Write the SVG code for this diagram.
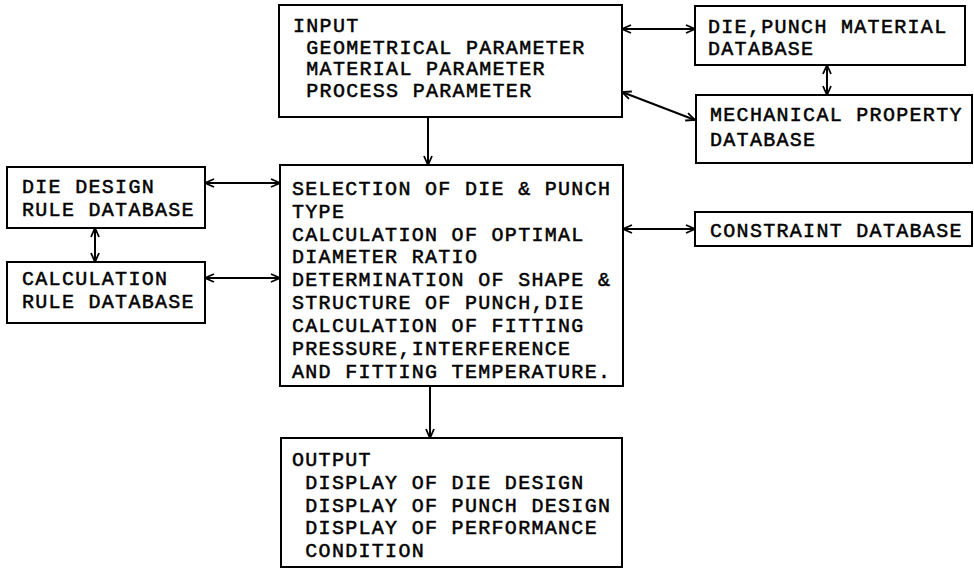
<svg xmlns="http://www.w3.org/2000/svg" width="974" height="570" viewBox="0 0 974 570">
<defs>
<style>
.box{fill:#fff;stroke:#000;stroke-width:2}
.t{font-family:"Liberation Mono","DejaVu Sans Mono",monospace;font-size:20px;letter-spacing:1.3px;fill:#000;stroke:#000;stroke-width:0.5px;white-space:pre}
.c{stroke:#000;stroke-width:2;fill:none}
</style>
<marker id="ah" viewBox="0 0 10 10" refX="10" refY="5" markerWidth="10" markerHeight="10" markerUnits="userSpaceOnUse" orient="auto-start-reverse">
<path d="M1,1 L10,5 L1,9" fill="none" stroke="#000" stroke-width="1.8"/>
</marker>
</defs>
<rect width="974" height="570" fill="#fff"/>
<g id="connectors">
<line class="c" x1="622" y1="29" x2="695" y2="29" marker-start="url(#ah)" marker-end="url(#ah)"/>
<line class="c" x1="622" y1="92" x2="695" y2="120" marker-start="url(#ah)" marker-end="url(#ah)"/>
<line class="c" x1="827" y1="65" x2="827" y2="95" marker-start="url(#ah)" marker-end="url(#ah)"/>
<line class="c" x1="428" y1="117" x2="428" y2="165" marker-end="url(#ah)"/>
<line class="c" x1="205" y1="183" x2="280" y2="183" marker-start="url(#ah)" marker-end="url(#ah)"/>
<line class="c" x1="95" y1="228" x2="95" y2="262" marker-start="url(#ah)" marker-end="url(#ah)"/>
<line class="c" x1="205" y1="278" x2="280" y2="278" marker-start="url(#ah)" marker-end="url(#ah)"/>
<line class="c" x1="623" y1="229" x2="695" y2="229" marker-start="url(#ah)" marker-end="url(#ah)"/>
<line class="c" x1="430" y1="386" x2="430" y2="438" marker-end="url(#ah)"/>
</g>
<g id="input">
<rect class="box" x="279" y="5" width="343" height="112"/>
<text class="t" x="293" y="32">INPUT</text>
<text class="t" x="293" y="53.5"> GEOMETRICAL PARAMETER</text>
<text class="t" x="293" y="75"> MATERIAL PARAMETER</text>
<text class="t" x="293" y="96.5"> PROCESS PARAMETER</text>
</g>
<g id="die-punch-material">
<rect class="box" x="695" y="6" width="270" height="59"/>
<text class="t" x="708" y="33">DIE,PUNCH MATERIAL</text>
<text class="t" x="708" y="55">DATABASE</text>
</g>
<g id="mechanical-property">
<rect class="box" x="696" y="95" width="276" height="68"/>
<text class="t" x="710" y="121">MECHANICAL PROPERTY</text>
<text class="t" x="710" y="146">DATABASE</text>
</g>
<g id="die-design-rule">
<rect class="box" x="7" y="167" width="198" height="61"/>
<text class="t" x="22" y="193">DIE DESIGN</text>
<text class="t" x="22" y="216">RULE DATABASE</text>
</g>
<g id="calculation-rule">
<rect class="box" x="7" y="262" width="198" height="61"/>
<text class="t" x="22" y="285">CALCULATION</text>
<text class="t" x="22" y="308">RULE DATABASE</text>
</g>
<g id="process">
<rect class="box" x="280" y="165" width="343" height="221"/>
<text class="t" x="292" y="195">SELECTION OF DIE &amp; PUNCH</text>
<text class="t" x="292" y="218">TYPE</text>
<text class="t" x="292" y="241">CALCULATION OF OPTIMAL</text>
<text class="t" x="292" y="263">DIAMETER RATIO</text>
<text class="t" x="292" y="286">DETERMINATION OF SHAPE &amp;</text>
<text class="t" x="292" y="309">STRUCTURE OF PUNCH,DIE</text>
<text class="t" x="292" y="332">CALCULATION OF FITTING</text>
<text class="t" x="292" y="355">PRESSURE,INTERFERENCE</text>
<text class="t" x="292" y="378">AND FITTING TEMPERATURE.</text>
</g>
<g id="constraint">
<rect class="box" x="695" y="212" width="277" height="34"/>
<text class="t" x="710" y="237">CONSTRAINT DATABASE</text>
</g>
<g id="output">
<rect class="box" x="281" y="438" width="341" height="129"/>
<text class="t" x="292" y="466">OUTPUT</text>
<text class="t" x="292" y="489"> DISPLAY OF DIE DESIGN</text>
<text class="t" x="292" y="512"> DISPLAY OF PUNCH DESIGN</text>
<text class="t" x="292" y="534"> DISPLAY OF PERFORMANCE</text>
<text class="t" x="292" y="557"> CONDITION</text>
</g>
</svg>
